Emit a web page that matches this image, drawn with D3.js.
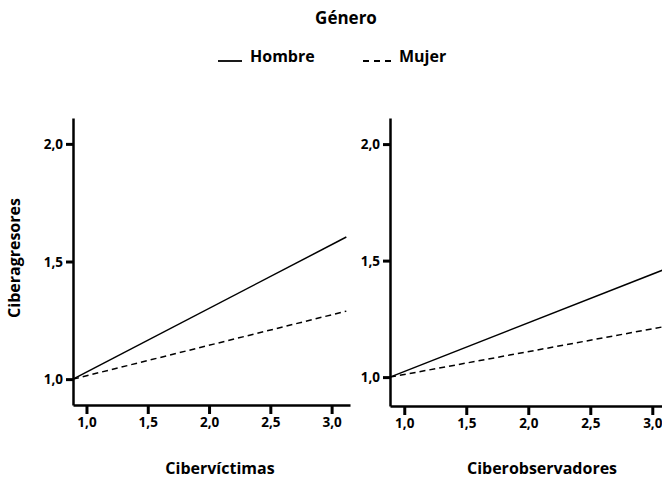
<!DOCTYPE html>
<html><head><meta charset="utf-8">
<script src="https://cdn.jsdelivr.net/npm/d3@7"></script>
<style>body{margin:0;background:#fff}svg{display:block}text{font-family:"Open Sans",sans-serif;font-weight:bold;fill:#000}</style>
</head><body>
<script>
// Data
const xTicks = [1.0, 1.5, 2.0, 2.5, 3.0];
const yTicks = [1.0, 1.5, 2.0];
const seriesNames = ["Hombre", "Mujer"];
const victimasX = [0.89, 3.12];
const victimasHombre = [1.0, 1.604];
const victimasMujer = [1.0, 1.289];
const observadoresX = [0.885, 3.12];
const observadoresHombre = [1.0, 1.467];
const observadoresMujer = [1.0, 1.219];

const W = 662, H = 480;
const svg = d3.select("body").append("svg").attr("width", W).attr("height", H);
const fmt = d => d.toFixed(1).replace(".", ",");

// Title and legend
svg.append("text").attr("x", 346).attr("y", 24).attr("text-anchor", "middle").style("font-size", "17px").text("Género");
svg.append("line").attr("x1", 218).attr("x2", 242).attr("y1", 61).attr("y2", 61).attr("stroke", "#000").attr("stroke-width", 1.8);
svg.append("text").attr("x", 250).attr("y", 62).style("font-size", "16px").text(seriesNames[0]);
svg.append("line").attr("x1", 363).attr("x2", 393).attr("y1", 61).attr("y2", 61).attr("stroke", "#000").attr("stroke-width", 1.8).attr("stroke-dasharray", "6,5");
svg.append("text").attr("x", 399).attr("y", 62).style("font-size", "16px").text(seriesNames[1]);

function panel(cfg) {
  const x = d3.scaleLinear().domain(cfg.xDomain).range(cfg.xRange);
  const y = d3.scaleLinear().domain(cfg.yDomain).range(cfg.yRange);
  const g = svg.append("g");
  const line = d3.line().x(d => x(d[0])).y(d => y(d[1]));
  g.append("path").datum(cfg.xs.map((v, i) => [v, cfg.h[i]])).attr("d", line)
    .attr("fill", "none").attr("stroke", "#000").attr("stroke-width", 1.5);
  g.append("path").datum(cfg.xs.map((v, i) => [v, cfg.m[i]])).attr("d", line)
    .attr("fill", "none").attr("stroke", "#000").attr("stroke-width", 1.5).attr("stroke-dasharray", "6,4");
  const xa = g.append("g").attr("transform", `translate(0,${cfg.yRange[0]})`)
    .call(d3.axisBottom(x).tickValues(xTicks).tickFormat(fmt).tickSize(9).tickPadding(2).tickSizeOuter(0));
  const ya = g.append("g").attr("transform", `translate(${cfg.xRange[0]},0)`)
    .call(d3.axisLeft(y).tickValues(yTicks).tickFormat(fmt).tickSize(7).tickPadding(3).tickSizeOuter(0));
  [xa, ya].forEach(a => {
    a.select(".domain").attr("stroke", "#000").attr("stroke-width", 2.5);
    a.selectAll(".tick line").attr("stroke", "#000").attr("stroke-width", 3);
    a.selectAll(".tick text").style("font-size", "13.5px").style("font-family", "'Open Sans',sans-serif").style("font-weight", "bold").attr("fill", "#000");
  });
  xa.selectAll(".tick text").attr("dy", "0.85em");
  ya.selectAll(".tick text").attr("dy", "0.35em");
  svg.append("text").attr("x", cfg.titleX).attr("y", 474).attr("text-anchor", "middle").style("font-size", "16px").text(cfg.title);
}

panel({xDomain: [0.89, 3.15], xRange: [73, 350], yDomain: [0.89, 2.11], yRange: [405, 118],
  xs: victimasX, h: victimasHombre, m: victimasMujer, title: "Cibervíctimas", titleX: 220});
panel({xDomain: [0.885, 3.3], xRange: [390, 689.5], yDomain: [0.876, 2.112], yRange: [406, 118],
  xs: observadoresX, h: observadoresHombre, m: observadoresMujer, title: "Ciberobservadores", titleX: 542});

svg.append("text").attr("transform", "translate(20,258) rotate(-90)").attr("text-anchor", "middle").style("font-size", "16px").text("Ciberagresores");
</script>
</body></html>
